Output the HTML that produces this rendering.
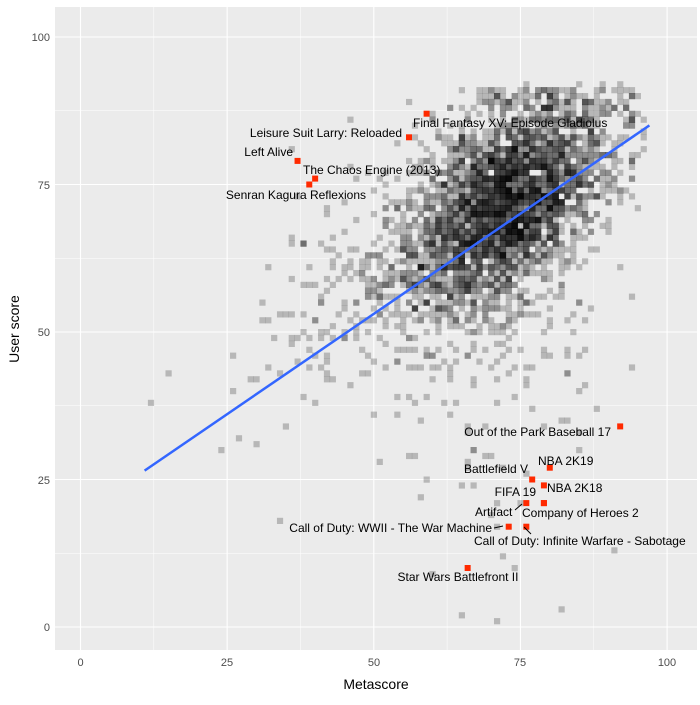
<!DOCTYPE html>
<html><head><meta charset="utf-8"><style>
body{margin:0;background:#fff;}
svg text{font-family:"Liberation Sans",sans-serif;}
</style></head><body>
<svg id="s" width="700" height="700" xmlns="http://www.w3.org/2000/svg">
<rect x="55" y="7" width="642" height="643" fill="#ebebeb"/>
<g id="grid"></g>
<g id="pts"></g>
<line x1="144.6" y1="470.6" x2="649.4" y2="125.4" stroke="#3366ff" stroke-width="2.5"/>
<g id="lab" font-size="12" fill="#000"></g>
<g font-size="11" fill="#4d4d4d" text-anchor="end">
<text x="50" y="631">0</text><text x="50" y="484">25</text><text x="50" y="336">50</text><text x="50" y="189">75</text><text x="50" y="41">100</text>
</g>
<g font-size="11" fill="#4d4d4d" text-anchor="middle">
<text x="80.5" y="666">0</text><text x="227" y="666">25</text><text x="374" y="666">50</text><text x="520" y="666">75</text><text x="667" y="666">100</text>
</g>
<text x="376" y="689" font-size="14" text-anchor="middle">Metascore</text>
<text transform="translate(19,329) rotate(-90)" font-size="14" text-anchor="middle">User score</text>
</svg>
<script>
function X(v){return 80.5+v*5.866;}
function Y(v){return 627-v*5.9;}
var g=document.getElementById('grid'),h='';
for(var i=0;i<=100;i+=12.5){var maj=(i%25===0);
h+='<line x1="'+X(i)+'" x2="'+X(i)+'" y1="7" y2="650" stroke="#fff" stroke-width="'+(maj?1.1:0.5)+'"/>';
h+='<line y1="'+Y(i)+'" y2="'+Y(i)+'" x1="55" x2="697" stroke="#fff" stroke-width="'+(maj?1.1:0.5)+'"/>';}
g.innerHTML=h;
var a=24681357;
function r(){a|=0;a=a+0x6D2B79F5|0;var t=Math.imul(a^a>>>15,1|a);t=t+Math.imul(t^t>>>7,61|t)^t;return((t^t>>>14)>>>0)/4294967296;}
function n(){return Math.sqrt(-2*Math.log(r()+1e-9))*Math.cos(2*Math.PI*r());}
var p='';
for(var k=0;k<3400;k++){
var m=(r()<0.82)?73+n()*8.5:62+n()*15;
if(m>96)m=96-r()*5;if(m<10)m=10+r()*10;
var q=r();var u;
if(q<0.07){u=0.55*m+32-Math.abs(n())*24;}
else{var sd=q<0.17?14:(q<0.32?10:7);u=0.55*m+32+n()*sd;}
if(u>92)u=91-r()*5;if(u<1)u=1+r()*12;
m=Math.round(m);u=Math.round(u);
p+='<rect x="'+(X(m)-3)+'" y="'+(Y(u)-3)+'" width="6.2" height="6.2" fill="#000" fill-opacity="0.22"/>';}
document.getElementById('pts').innerHTML=p;
var L=[[59,87,413,127,'start','Final Fantasy XV: Episode Gladiolus'],
[56,83,402,137,'end','Leisure Suit Larry: Reloaded'],
[37,79,293,156,'end','Left Alive'],
[40,76,303,174,'start','The Chaos Engine (2013)'],
[39,75,366,199,'end','Senran Kagura Reflexions'],
[92,34,611,436,'end','Out of the Park Baseball 17'],
[80,27,538,465,'start','NBA 2K19'],
[77,25,528,473,'end','Battlefield V'],
[79,24,547,492,'start','NBA 2K18'],
[79,21,536,496,'end','FIFA 19'],
[76,21,475,516,'start','Artifact'],
[79,21,522,517,'start','Company of Heroes 2'],
[73,17,492,532,'end','Call of Duty: WWII - The War Machine'],
[76,17,474,545,'start','Call of Duty: Infinite Warfare - Sabotage'],
[66,10,458,581,'middle','Star Wars Battlefront II']];
var t='';
L.forEach(function(a){t+='<rect x="'+(X(a[0])-3)+'" y="'+(Y(a[1])-3)+'" width="6" height="6" fill="#ff2a00"/>';
t+='<text x="'+a[2]+'" y="'+a[3]+'" text-anchor="'+a[4]+'">'+a[5]+'</text>';});
t+='<line x1="494" y1="528" x2="503" y2="526" stroke="#000"/><line x1="524" y1="527" x2="531" y2="534" stroke="#000"/><line x1="515" y1="510" x2="522" y2="504" stroke="#000"/>';
document.getElementById('lab').innerHTML=t;
</script>
</body></html>
